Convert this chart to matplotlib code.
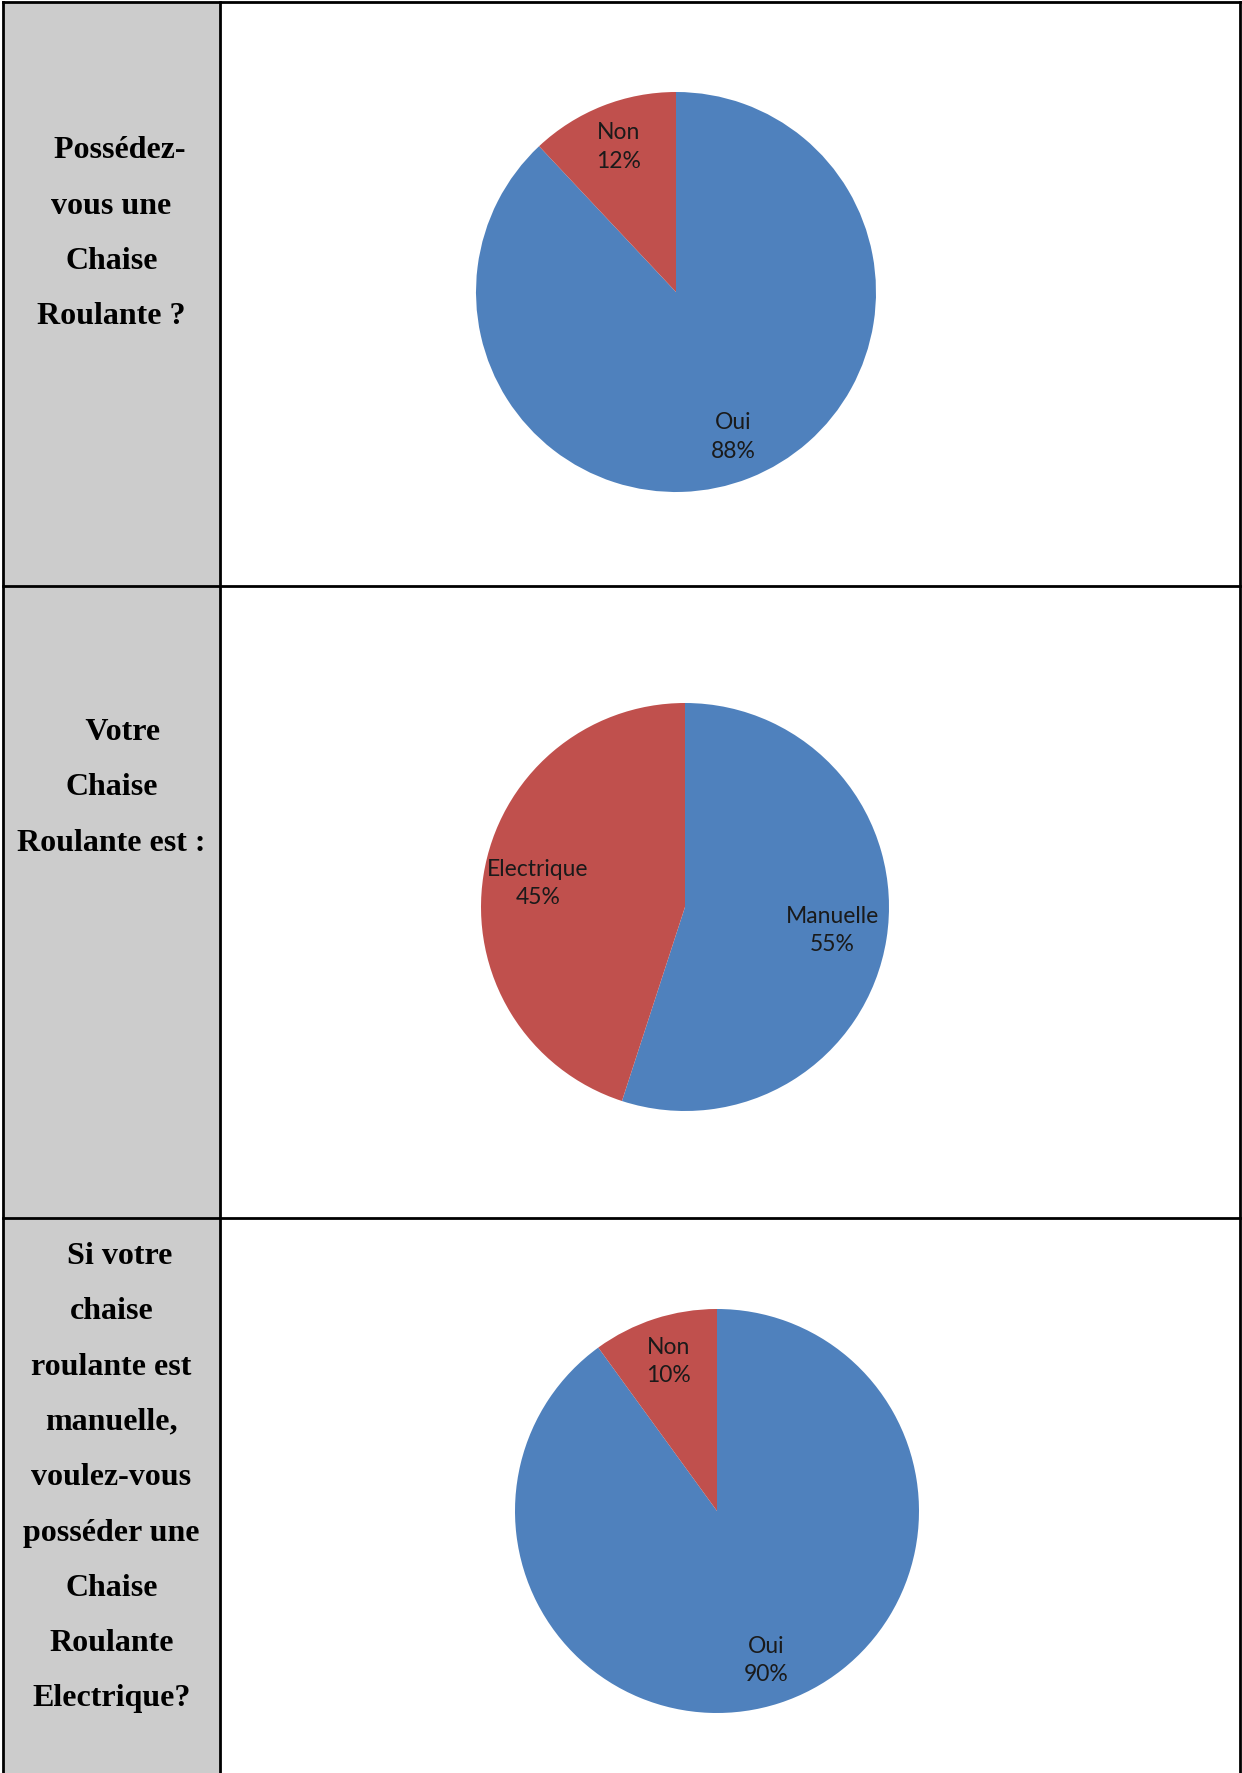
import matplotlib
matplotlib.use("Agg")
import matplotlib.pyplot as plt

# ---------------- data ----------------
questions = [
    ["  Possédez-", "vous une", "Chaise", "Roulante ?"],
    ["   Votre", "Chaise", "Roulante est :"],
    ["  Si votre", "chaise", "roulante est", "manuelle,", "voulez-vous",
     "posséder une", "Chaise", "Roulante", "Electrique?"],
]
pie1_labels = ["Oui", "Non"]
pie1_values = [88, 12]
pie2_labels = ["Manuelle", "Electrique"]
pie2_values = [55, 45]
pie3_labels = ["Oui", "Non"]
pie3_values = [90, 10]

# ---------------- layout (pixels) ----------------
W, H = 1242, 1773
DPI = 100
blue, red = "#4F81BD", "#C0504D"
gray = "#CCCCCC"

col_left, col_div, col_right = 3, 220, 1240
row_tops = [2, 586, 1218]
row_bottom = H + 5
first_line_y = [151, 732.5, 1256.5]
line_step = 55.3

pie_centers = [(676, 292), (685, 907), (717, 1511)]
pie_radii = [200, 204, 202]
label_dist = [0.78, 0.73, 0.78]

fig = plt.figure(figsize=(W / DPI, H / DPI), dpi=DPI)
fig.patch.set_facecolor("white")

bg = fig.add_axes([0, 0, 1, 1])
bg.set_xlim(0, W)
bg.set_ylim(H, 0)
bg.axis("off")

# gray left column
bg.fill_between([col_left, col_div], row_tops[0], row_bottom, color=gray, lw=0, zorder=0)

lw = 2.0
# outer and inner borders
bg.plot([col_left, col_left], [row_tops[0], row_bottom], color="black", lw=lw, zorder=2)
bg.plot([col_right, col_right], [row_tops[0], row_bottom], color="black", lw=lw, zorder=2)
bg.plot([col_div, col_div], [row_tops[0], row_bottom], color="black", lw=lw, zorder=2)
for yt in row_tops:
    bg.plot([col_left, col_right], [yt, yt], color="black", lw=lw, zorder=2)

# question text
cx_text = (col_left + col_div) / 2
for lines, y0 in zip(questions, first_line_y):
    for i, line in enumerate(lines):
        bg.text(cx_text, y0 + i * line_step, line, ha="center", va="center",
                fontsize=23, fontweight="bold", family="Liberation Serif",
                color="black", zorder=3)

# pies
pies = [(pie1_labels, pie1_values), (pie2_labels, pie2_values), (pie3_labels, pie3_values)]
for (labels, values), (cx, cy), r, ld in zip(pies, pie_centers, pie_radii, label_dist):
    ax = fig.add_axes([(cx - r) / W, 1 - (cy + r) / H, 2 * r / W, 2 * r / H])
    texts = [f"{lab}\n{v}%" for lab, v in zip(labels, values)]
    wedges, lbls = ax.pie(values, labels=texts, colors=[blue, red], startangle=90,
                          counterclock=False, labeldistance=ld,
                          wedgeprops=dict(linewidth=0),
                          textprops=dict(fontsize=16.5, family="Lato", color="#1a1a1a",
                                         linespacing=1.42))
    for t in lbls:
        t.set_ha("center")
        t.set_va("center")
        t.set_multialignment("center")
    ax.set_xlim(-1, 1)
    ax.set_ylim(-1, 1)
    ax.set_aspect("equal")
    ax.axis("off")

fig.savefig("out.png", dpi=DPI, facecolor="white")
